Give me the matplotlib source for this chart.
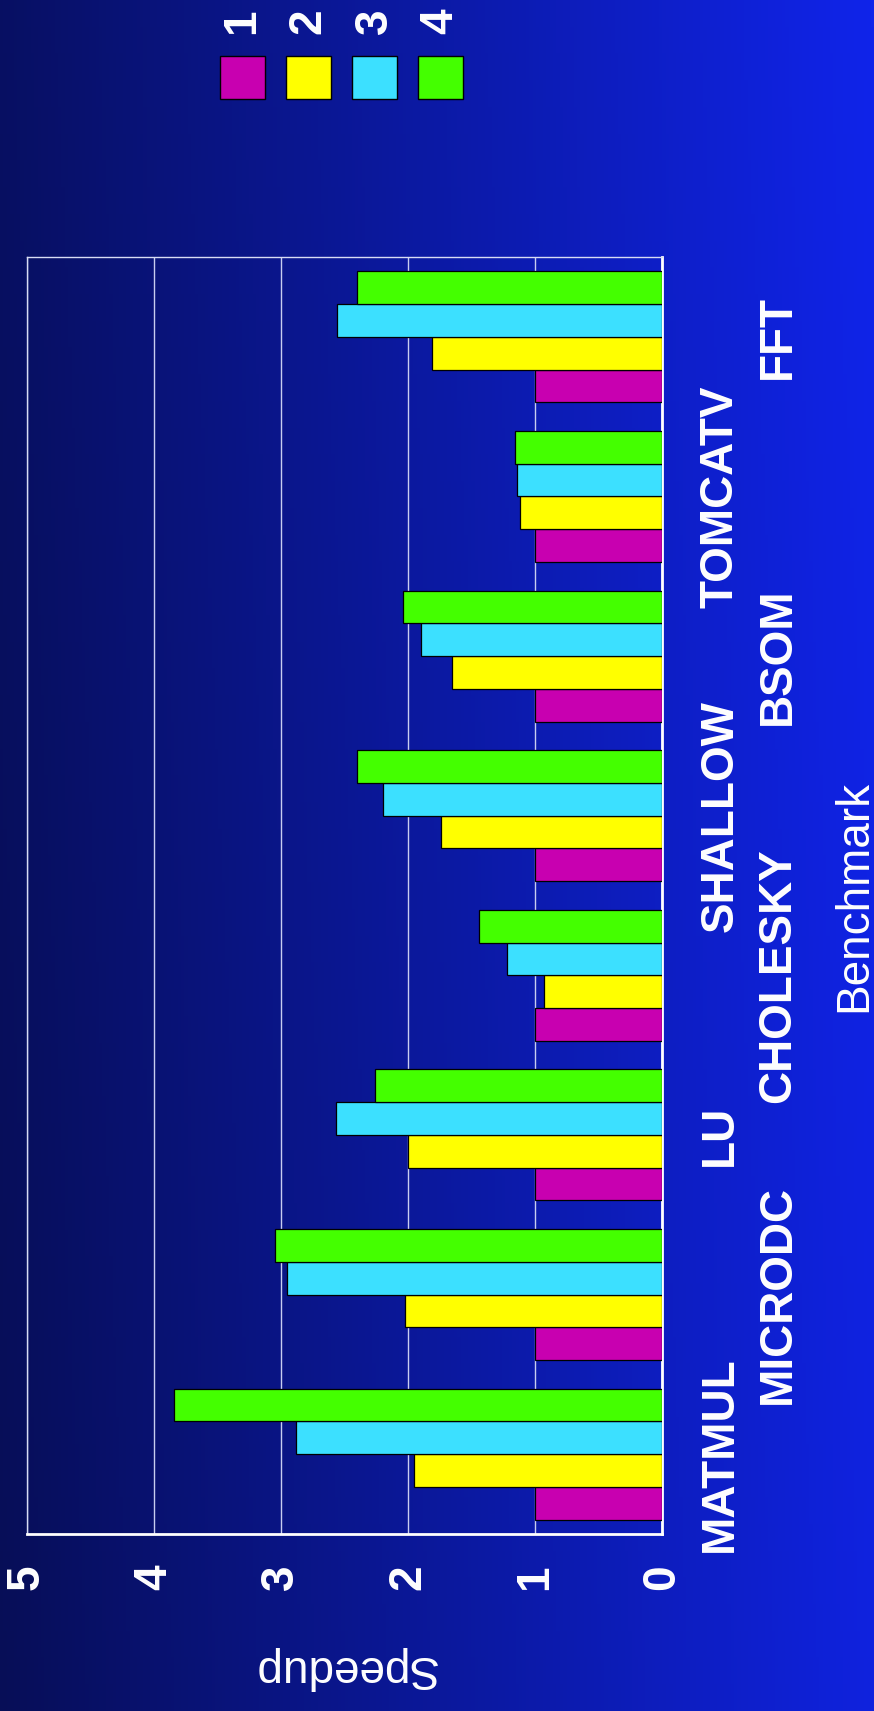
import numpy as np
import matplotlib
matplotlib.use("Agg")
import matplotlib.pyplot as plt
from matplotlib.colors import to_rgb
from matplotlib.patches import Rectangle
from matplotlib.transforms import ScaledTranslation

plt.rcParams["font.family"] = ["Liberation Sans", "DejaVu Sans"]

# Speedup per benchmark for 1-4 processors
benchmarks = ["MATMUL", "MICRODC", "LU", "CHOLESKY", "SHALLOW", "BSOM", "TOMCATV", "FFT"]
series_labels = ["1", "2", "3", "4"]
speedup_1 = [1.00, 1.00, 1.00, 1.00, 1.00, 1.00, 1.00, 1.00]
speedup_2 = [1.95, 2.02, 2.00, 0.93, 1.74, 1.65, 1.12, 1.81]
speedup_3 = [2.88, 2.95, 2.57, 1.22, 2.20, 1.90, 1.14, 2.56]
speedup_4 = [3.84, 3.05, 2.26, 1.44, 2.40, 2.04, 1.16, 2.40]
value_ticks = [0, 1, 2, 3, 4, 5]

series = [speedup_1, speedup_2, speedup_3, speedup_4]
colors = ["#C800B0", "#FFFF00", "#3CE0FF", "#44FF00"]

W, H = 874, 1711
fig = plt.figure(figsize=(W / 100, H / 100), dpi=100)

# slide-style background: dark navy on the left to bright blue on the right
bg = fig.add_axes([0, 0, 1, 1], zorder=-10)
c0 = np.array(to_rgb("#070e57"))
c1 = np.array(to_rgb("#1024ea"))
gx = np.linspace(0, 1, 256)[None, :]
gy = np.linspace(0, 1, 64)[:, None]
t = np.clip(0.92 * gx + 0.08 * (1 - gy), 0, 1)
grad = c0[None, None, :] * (1 - t[..., None]) + c1[None, None, :] * t[..., None]
bg.imshow(grad, aspect="auto", extent=[0, 1, 0, 1], origin="upper")
bg.set_axis_off()

# plot area in pixels: x 27..662, y 257..1534
ax = fig.add_axes([27 / W, 1 - 1534 / H, 635 / W, (1534 - 257) / H])
ax.set_facecolor("none")

y = np.arange(len(benchmarks))
h = 0.205
for i, (vals, col) in enumerate(zip(series, colors)):
    ax.barh(y + (i - 1.5) * h, vals, height=h, color=col,
            edgecolor="black", linewidth=0.9, zorder=3)

ax.set_xlim(5, 0)
ax.set_ylim(-0.5, len(benchmarks) - 0.5)

ax.set_xticks(value_ticks)
ax.set_xticklabels([str(v) for v in value_ticks])
ax.xaxis.grid(True, color="#c8cdf0", linewidth=1.0, zorder=0)
ax.set_axisbelow(True)
ax.tick_params(axis="x", length=0, pad=22, labelsize=33, labelcolor="white",
               labelrotation=90)
for lab in ax.get_xticklabels():
    lab.set_fontweight("bold")

ax.spines["left"].set_color("#d8dcf4")
ax.spines["left"].set_linewidth(1.0)
ax.spines["top"].set_color("#d8dcf4")
ax.spines["top"].set_linewidth(1.0)
ax.spines["bottom"].set_color("white")
ax.spines["bottom"].set_linewidth(2.0)
ax.spines["right"].set_color("white")
ax.spines["right"].set_linewidth(2.0)

# benchmark names on the right, staggered in two columns
ax.yaxis.tick_right()
ax.set_yticks(y)
ax.set_yticklabels(benchmarks)
ax.tick_params(axis="y", length=0, pad=42, labelsize=33, labelcolor="white",
               labelrotation=90)
for k, lab in enumerate(ax.get_yticklabels()):
    lab.set_fontweight("bold")
    lab.set_ha("center")
    lab.set_va("center")
    if k % 2 == 1:
        lab.set_transform(lab.get_transform()
                          + ScaledTranslation(58 / 100, 0, fig.dpi_scale_trans))

ax.set_xlabel("Speedup", fontsize=33, color="white", rotation=180, labelpad=40)
ax.text(1.302, 0.5, "Benchmark", transform=ax.transAxes, fontsize=33,
        color="white", rotation=90, ha="center", va="center")

# legend: swatches with series labels above
for i, (lab, col) in enumerate(zip(series_labels, colors)):
    x0 = 220 + 66 * i
    fig.patches.append(Rectangle((x0 / W, 1 - 99 / H), 45 / W, 43 / H,
                                 transform=fig.transFigure, facecolor=col,
                                 edgecolor="black", linewidth=1.0))
    fig.text((x0 + 22.5) / W, 1 - 21 / H, lab, fontsize=33, fontweight="bold",
             color="white", rotation=90, ha="center", va="center")

fig.savefig("out.png", dpi=100)
